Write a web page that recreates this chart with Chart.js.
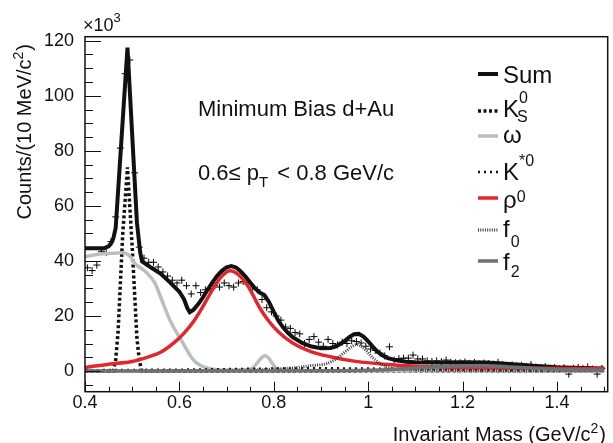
<!DOCTYPE html>
<html><head><meta charset="utf-8">
<script src="https://cdn.jsdelivr.net/npm/chart.js@4.4.1/dist/chart.umd.min.js"></script>
<style>html,body{margin:0;padding:0;background:#fff}canvas{display:block}</style>
</head><body>
<canvas id="c" width="613" height="443"></canvas>
<script>
// ---- data (counts in units of 10^3) ----
const binStart = 0.405, binWidth = 0.01;
const dataCounts = [37.5,36.5,38.5,43.5,43,47,56,81,108,113,
 72,45,41,39.5,39.5,37.8,36,34.5,33,32,
 33,31,28,31,28.5,29.5,30,31,30.5,32,
 31,30.5,32,32.5,32,30.5,29.5,26,23,21.5,
 20,18.5,16,15.5,14,13.5,10,11.5,12.5,10.5,
 9,11.5,10,9.5,10.5,10,11,10.7,10.2,9,
 8,7.5,6.5,5.5,8.8,4,4.5,4.7,4.7,5.8,
 4.4,4.4,3.7,3.5,3.7,3.4,4,3.2,3,3.0,
 3.3,2.8,3.1,2.6,2.9,2.7,2.5,3.2,2.4,2.0,
 2.2,1.8,2.1,1.6,2.4,1.5,1.2,1.6,1.0,1.3,
 0.8,1.2,-1.1,1.0,1.3,0.9,1.5,0.7,-1.1,1.0];

const sumX = [0.40,0.44,0.45,0.455,0.46,0.465,0.49,0.51,0.517,0.521,
 0.54,0.56,0.58,0.60,0.61,0.617,0.622,0.63,0.64,0.65,
 0.66,0.67,0.68,0.69,0.70,0.71,0.72,0.73,0.74,0.75,
 0.76,0.77,0.78,0.79,0.80,0.81,0.82,0.83,0.84,0.86,
 0.88,0.90,0.92,0.93,0.94,0.95,0.96,0.97,0.98,0.99,
 1.00,1.01,1.02,1.03,1.04,1.06,1.08,1.10,1.15,1.2,
 1.25,1.3,1.35,1.4,1.45,1.5];
const sumY = [44.6,44.6,45.3,46.3,48.2,52,117.5,54,43,39.8,
 37.6,35.4,32.2,28.8,26,22.8,21.4,22.3,24.3,26.8,
 29.6,32.2,34.6,36.4,37.7,38.1,37.6,36.2,34.3,32.2,
 30.1,28.5,27.6,25,21.5,18.2,15.8,13.9,12.3,10.2,
 8.9,8.3,8.4,8.9,9.7,10.9,12.3,13.4,13.5,12.5,
 10.8,8.8,7,5.7,4.8,3.9,3.4,3.2,3.1,3.2,
 3.1,2.6,1.9,1.4,1.1,0.9];

const ksX = [0.40,0.46,0.465,0.47,0.48,0.49,0.50,0.51,0.515,0.52,1.5];
const ksY = [0,0,4,14,50,74,45,12,4,0,0];

const omX = [0.40,0.43,0.46,0.48,0.495,0.505,0.53,0.548,0.56,0.58,0.608,0.63,0.645,0.66,0.68,0.70,0.74,0.755,0.765,0.775,0.782,0.79,0.80,0.81,0.83,0.9,1.0,1.5];
const omY = [41.5,42.5,42.8,43,41.8,39.2,35.8,32,27,18.5,10,4,2,1,0.5,0.4,0.4,1,3,5,5.6,4.5,2,0.6,0.3,0.2,0.1,0];

const kstX = [0.4,0.5,0.6,0.7,0.8,0.9,1.0,1.1,1.2,1.3,1.5];
const kstY = [0.3,0.4,0.5,0.7,0.9,1.0,0.9,0.7,0.5,0.3,0.1];

const rhoX = [0.40,0.45,0.50,0.53,0.56,0.59,0.61,0.63,0.65,0.67,0.69,0.707,0.725,0.745,0.77,0.79,0.81,0.84,0.88,0.92,0.97,1.05,1.15,1.3,1.5];
const rhoY = [1.3,2.5,3.5,4.9,6.8,10.5,13.8,18,23.5,29.5,34.5,36.4,35,31,23,18,14.2,10.2,7,5.2,3.6,2.3,1.5,1.1,0.8];

const f0X = [0.40,0.70,0.80,0.85,0.88,0.91,0.93,0.95,0.965,0.975,0.985,0.995,1.01,1.03,1.05,1.1,1.2,1.5];
const f0Y = [0,0.2,0.7,1.3,2.0,2.6,4.2,6.8,8.8,9.6,9.0,7.5,4.8,2.2,1.0,0.4,0.2,0.1];

const f2X = [0.4,0.9,1.0,1.05,1.1,1.15,1.2,1.25,1.3,1.35,1.4,1.5];
const f2Y = [0,0.1,0.3,0.6,1.1,1.6,1.9,1.9,1.5,1.0,0.6,0.3];

const xTicks = [0.4,0.6,0.8,1,1.2,1.4];
const yTicks = [0,20,40,60,80,100,120];

// ---- build ----
const FONT = '"Liberation Sans", Arial, Helvetica, sans-serif';
const pts = (xs, ys) => xs.map((x, i) => ({x: x, y: ys[i]}));
const dataPts = dataCounts.map((v, i) => ({x: binStart + i * binWidth, y: v}));

function curve(label, xs, ys, color, width, dash, order, straight) {
  const d = {label, data: pts(xs, ys), borderColor: color, backgroundColor: color,
    borderWidth: width, borderDash: dash || [], pointRadius: 0, fill: false, order: order};
  if (straight) { d.tension = 0; } else { d.cubicInterpolationMode = 'monotone'; }
  return d;
}

const datasets = [
  {label: 'data', data: dataPts, showLine: false, pointStyle: 'cross', pointRadius: 3.5,
   borderColor: '#000', backgroundColor: '#000', pointBorderWidth: 1, borderWidth: 1, order: 100},
  curve('Sum', sumX, sumY, '#111', 4, null, 9, true),
  curve('KS', ksX, ksY, '#111', 3.5, [3, 2.5], 8, true),
  curve('omega', omX, omY, '#b8bec4', 3.5, null, 7),
  curve('Kstar', kstX, kstY, '#111', 2.5, [2, 4], 6),
  curve('rho', rhoX, rhoY, '#e3262b', 3.5, null, 5),
  curve('f0', f0X, f0Y, '#3a3a3a', 3, [1, 1.3], 4),
  curve('f2', f2X, f2Y, '#6e7276', 3.5, null, 3)
];

function rich(ctx, x, y, parts, align) {
  let w = 0;
  parts.forEach(p => { ctx.font = p[1] + 'px ' + FONT; w += ctx.measureText(p[0]).width + (p[3] || 0); });
  let cx = align === 'right' ? x - w : x;
  parts.forEach(p => {
    ctx.font = p[1] + 'px ' + FONT;
    ctx.fillText(p[0], cx, y + (p[2] || 0));
    cx += ctx.measureText(p[0]).width + (p[3] || 0);
  });
}

const rootPlugin = {
  id: 'rootStyle',
  afterDraw(chart) {
    const ctx = chart.ctx, a = chart.chartArea, xs = chart.scales.x, ys = chart.scales.y;
    ctx.save();
    ctx.strokeStyle = '#111'; ctx.fillStyle = '#111';
    ctx.lineWidth = 1;
    ctx.beginPath();
    for (let k = 0; k <= 22; k++) {
      const v = Math.round((0.4 + k * 0.05) * 100) / 100;
      const major = xTicks.some(t => Math.abs(t - v) < 1e-6);
      const px = Math.round(xs.getPixelForValue(v)) + 0.5;
      ctx.moveTo(px, a.bottom); ctx.lineTo(px, a.bottom - (major ? 10 : 5));
    }
    for (let v = -5; v <= 120; v += 5) {
      const major = yTicks.includes(v);
      const py = Math.round(ys.getPixelForValue(v)) + 0.5;
      ctx.moveTo(a.left, py); ctx.lineTo(a.left + (major ? 16 : 8), py);
    }
    ctx.stroke();
    ctx.lineWidth = 1.5;
    ctx.strokeRect(a.left, a.top, a.right - a.left, a.bottom - a.top);

    ctx.textAlign = 'left'; ctx.textBaseline = 'alphabetic';
    rich(ctx, 83, 31, [['\u00d710', 18], ['3', 13, -9]]);
    rich(ctx, 606, 441, [['Invariant Mass (GeV/c', 20], ['2', 14, -8, 1], [')', 20]], 'right');
    ctx.save();
    ctx.translate(31, 44); ctx.rotate(-Math.PI / 2);
    rich(ctx, 0, 0, [['Counts/(10 MeV/c', 20], ['2', 14, -8, 1], [')', 20]], 'right');
    ctx.restore();
    rich(ctx, 198, 116, [['Minimum Bias d+Au', 22]]);
    rich(ctx, 198, 180, [['0.6\u2264 p', 22], ['T', 15, 7, 3], [' < 0.8 GeV/c', 22]]);

    const rows = [
      {ds: 1, ly: 74, parts: [['Sum', 24]], by: 82.5},
      {ds: 2, ly: 111, parts: [['K', 24], ['0', 16, -13.5, -11], ['S', 16, 5.5]], by: 116.5},
      {ds: 3, ly: 136, parts: [['\u03c9', 24]], by: 143},
      {ds: 4, ly: 172, parts: [['K', 24], ['*0', 16, -14]], by: 180},
      {ds: 5, ly: 198, parts: [['\u03c1', 24], ['0', 16, -6]], by: 208},
      {ds: 6, ly: 230, parts: [['f', 24, 0, 1], ['0', 16, 10]], by: 237},
      {ds: 7, ly: 261, parts: [['f', 24, 0, 1], ['2', 16, 7]], by: 270}
    ];
    rows.forEach(r => {
      const d = chart.data.datasets[r.ds];
      ctx.save();
      ctx.strokeStyle = d.borderColor; ctx.lineWidth = d.borderWidth;
      ctx.setLineDash(d.borderDash || []);
      ctx.beginPath(); ctx.moveTo(478, r.ly); ctx.lineTo(498, r.ly); ctx.stroke();
      ctx.restore();
      rich(ctx, 503, r.by, r.parts);
    });
    ctx.restore();
  }
};

new Chart(document.getElementById('c'), {
  type: 'line',
  data: {datasets: datasets},
  options: {
    responsive: false, animation: false, devicePixelRatio: 1,
    layout: {padding: {left: 0, top: 36.7, right: 5.3, bottom: 0}},
    plugins: {legend: {display: false}, tooltip: {enabled: false}},
    scales: {
      x: {type: 'linear', min: 0.4, max: 1.5074,
        grid: {display: false, drawTicks: false}, border: {display: false},
        ticks: {font: {family: FONT, size: 18}, color: '#111', padding: 1,
          callback: v => String(Math.round(v * 10) / 10)},
        afterBuildTicks: s => { s.ticks = xTicks.map(v => ({value: v})); },
        afterFit: s => { s.height = 51.3; }},
      y: {type: 'linear', min: -7.5, max: 121.45,
        grid: {display: false, drawTicks: false}, border: {display: false},
        ticks: {font: {family: FONT, size: 18}, color: '#111', padding: 11,
          callback: v => String(v)},
        afterBuildTicks: s => { s.ticks = yTicks.map(v => ({value: v})); },
        afterFit: s => { s.width = 85; }}
    }
  },
  plugins: [rootPlugin]
});
</script>
</body></html>
